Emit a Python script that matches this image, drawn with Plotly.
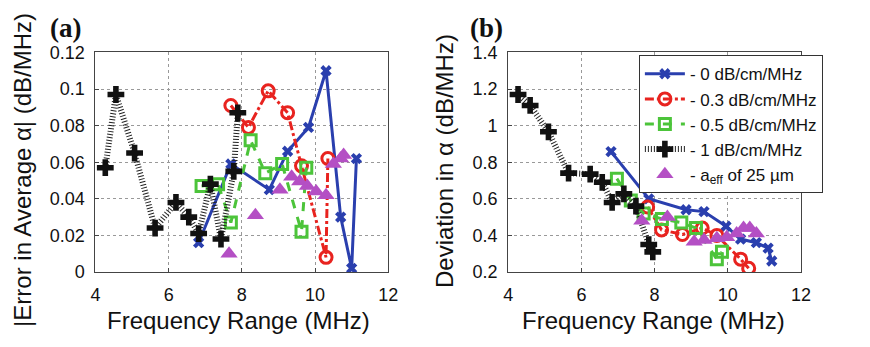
import plotly.graph_objects as go
from plotly.subplots import make_subplots

# ---------------- data: panel (a) ----------------
blue_x_a = [6.82, 7.7, 8.75, 9.25, 9.82, 10.3, 10.7, 11.0, 11.13]
blue_y_a = [0.016, 0.059, 0.045, 0.066, 0.079, 0.110, 0.030, 0.002, 0.062]
red_x_a = [7.7, 8.18, 8.72, 9.25, 9.63, 10.3, 10.35]
red_y_a = [0.091, 0.079, 0.099, 0.087, 0.058, 0.008, 0.062]
green_x_a = [6.9, 7.35, 7.7, 8.24, 8.64, 9.1, 9.63, 9.76]
green_y_a = [0.047, 0.048, 0.027, 0.072, 0.054, 0.059, 0.022, 0.057]
black_x_a = [4.27, 4.56, 5.07, 5.63, 6.2, 6.55, 6.82, 7.14, 7.43, 7.78, 7.89]
black_y_a = [0.057, 0.097, 0.065, 0.024, 0.038, 0.030, 0.021, 0.048, 0.018, 0.055, 0.087]
mag_x_a = [7.65, 8.37, 9.04, 9.36, 9.58, 9.79, 10.03, 10.3, 10.5, 10.7, 10.78]
mag_y_a = [0.010, 0.031, 0.045, 0.052, 0.0495, 0.047, 0.044, 0.042, 0.059, 0.062, 0.064]

# ---------------- data: panel (b) ----------------
blue_x_b = [6.81, 7.84, 8.86, 9.35, 9.95, 10.35, 10.78, 11.1, 11.2]
blue_y_b = [0.858, 0.60, 0.54, 0.53, 0.45, 0.38, 0.36, 0.33, 0.26]
red_x_b = [7.81, 8.19, 8.76, 9.3, 9.7, 10.35, 10.57]
red_y_b = [0.555, 0.43, 0.405, 0.44, 0.40, 0.27, 0.22]
green_x_b = [6.97, 7.35, 7.7, 8.2, 8.73, 9.13, 9.7, 9.84]
green_y_b = [0.71, 0.59, 0.52, 0.49, 0.47, 0.44, 0.27, 0.31]
black_x_b = [4.27, 4.6, 5.1, 5.65, 6.24, 6.57, 6.84, 7.16, 7.49, 7.84, 7.95]
black_y_b = [1.17, 1.11, 0.966, 0.74, 0.735, 0.69, 0.58, 0.627, 0.56, 0.35, 0.31]
mag_x_b = [7.65, 8.35, 9.08, 9.35, 9.7, 9.97, 10.24, 10.43, 10.6, 10.78]
mag_y_b = [0.48, 0.50, 0.365, 0.375, 0.385, 0.39, 0.41, 0.44, 0.44, 0.41]

names = ["- 0 dB/cm/MHz", "- 0.3 dB/cm/MHz", "- 0.5 dB/cm/MHz", "- 1 dB/cm/MHz",
         "- a<sub>eff</sub> of 25 µm"]

BLUE = "#2a3fae"
RED = "#e8231f"
GREEN = "#4cc43a"
BLACK = "#111111"
MAG = "#b44fc4"

FONT = "Liberation Sans"

fig = make_subplots(rows=1, cols=2)

def add_panel(col, data, show):
    (bx, by), (rx, ry), (gx, gy), (kx, ky), (mx, my) = data
    fig.add_trace(go.Scatter(x=bx, y=by, name=names[0], mode="lines+markers",
                             line=dict(color=BLUE, width=3),
                             marker=dict(symbol="x", size=10, color=BLUE),
                             showlegend=show), row=1, col=col)
    fig.add_trace(go.Scatter(x=rx, y=ry, name=names[1], mode="lines+markers",
                             line=dict(color=RED, width=3, dash="dashdot"),
                             marker=dict(symbol="circle-open", size=12, color=RED,
                                         line=dict(width=3, color=RED)),
                             showlegend=show), row=1, col=col)
    fig.add_trace(go.Scatter(x=gx, y=gy, name=names[2], mode="lines+markers",
                             line=dict(color=GREEN, width=3, dash="dash"),
                             marker=dict(symbol="square-open", size=11, color=GREEN,
                                         line=dict(width=3, color=GREEN)),
                             showlegend=show), row=1, col=col)
    fig.add_trace(go.Scatter(x=kx, y=ky, name=names[3], mode="lines+markers",
                             line=dict(color="#222222", width=6, dash="1px,2px"),
                             marker=dict(symbol="cross", size=14, color=BLACK),
                             showlegend=show), row=1, col=col)
    fig.add_trace(go.Scatter(x=mx, y=my, name=names[4], mode="markers",
                             marker=dict(symbol="triangle-up", size=15, color=MAG),
                             showlegend=show), row=1, col=col)

add_panel(1, [(blue_x_a, blue_y_a), (red_x_a, red_y_a), (green_x_a, green_y_a),
              (black_x_a, black_y_a), (mag_x_a, mag_y_a)], False)
add_panel(2, [(blue_x_b, blue_y_b), (red_x_b, red_y_b), (green_x_b, green_y_b),
              (black_x_b, black_y_b), (mag_x_b, mag_y_b)], True)

axis_common = dict(showgrid=True, gridcolor="#999999", griddash="dot", gridwidth=1,
                   showline=True, mirror=True, linecolor="#444444", linewidth=1,
                   ticks="inside", ticklen=4, tickcolor="#444444",
                   tickfont=dict(family=FONT, size=18, color="#111111"),
                   zeroline=False)

ydom = [1 - 278 / 347, 1 - 45 / 347]
fig.update_layout(
    width=870, height=347,
    margin=dict(l=0, r=0, t=0, b=0),
    plot_bgcolor="white", paper_bgcolor="white",
    xaxis=dict(domain=[92 / 870, 390 / 870], range=[4, 12], dtick=2,
               ticklabelstandoff=6, **axis_common),
    yaxis=dict(domain=ydom, range=[0, 0.12], dtick=0.02, ticklabelstandoff=6, **axis_common),
    xaxis2=dict(domain=[512 / 870, 810 / 870], range=[4, 12], dtick=2,
                ticklabelstandoff=6, **axis_common),
    yaxis2=dict(domain=ydom, range=[0.2, 1.4], dtick=0.2, ticklabelstandoff=6, **axis_common),
    legend=dict(x=645 / 870, y=1 - 48 / 347, xanchor="left", yanchor="top",
                bgcolor="white", bordercolor="#333333", borderwidth=1,
                font=dict(family=FONT, size=17, color="#111111"),
                tracegroupgap=0, itemwidth=40),
    showlegend=True,
)

anns = [
    dict(text="<b>(a)</b>", x=62 / 870, y=1 - 19 / 347, font=dict(family="Liberation Serif", size=27)),
    dict(text="<b>(b)</b>", x=490 / 870, y=1 - 19 / 347, font=dict(family="Liberation Serif", size=27)),
    dict(text="|Error in Average α| (dB/MHz)", x=18 / 870, y=1 - 170 / 347, textangle=-90,
         font=dict(family=FONT, size=24)),
    dict(text="Deviation in α (dB/MHz)", x=448 / 870, y=1 - 160 / 347, textangle=-90,
         font=dict(family=FONT, size=24)),
    dict(text="Frequency Range (MHz)", x=238 / 870, y=1 - 330 / 347, font=dict(family=FONT, size=24)),
    dict(text="Frequency Range (MHz)", x=660 / 870, y=1 - 330 / 347, font=dict(family=FONT, size=24)),
]
for a in anns:
    a.update(xref="paper", yref="paper", showarrow=False, xanchor="center", yanchor="middle")
    a["font"]["color"] = "#111111"
    fig.add_annotation(**a)

fig.write_html("out.html")
